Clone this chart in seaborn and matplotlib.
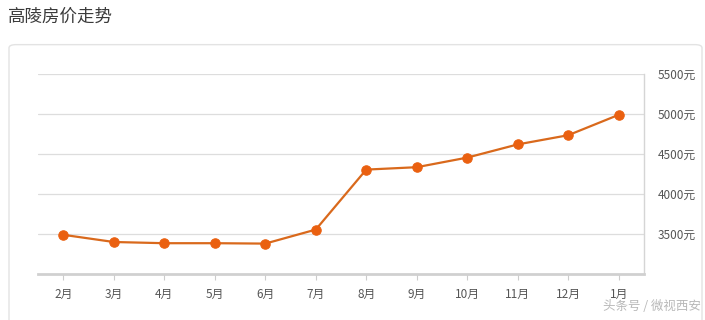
import matplotlib
matplotlib.use("Agg")
import matplotlib.pyplot as plt
import seaborn as sns
import pandas as pd
from matplotlib.patches import FancyBboxPatch

months = ["2月", "3月", "4月", "5月", "6月", "7月", "8月", "9月", "10月", "11月", "12月", "1月"]
prices = [3490, 3400, 3385, 3385, 3380, 3555, 4305, 4335, 4455, 4620, 4735, 4990]
yticks = [3500, 4000, 4500, 5000, 5500]
ytick_labels = ["3500元", "4000元", "4500元", "5000元", "5500元"]
title = "高陵房价走势"
watermark = "头条号 / 微视西安"

sns.set_theme(style="white")
plt.rcParams['font.family'] = ['Noto Sans CJK SC', 'DejaVu Sans']

df = pd.DataFrame({"month": months, "price": prices})
df["x"] = range(len(months))

W, H = 705, 320
fig = plt.figure(figsize=(W / 100, H / 100), dpi=100)
fig.patch.set_facecolor("white")

# panel box
box = FancyBboxPatch((9 / W, -0.05), (W - 12) / W, (H - 44) / H + 0.05 - 0.002,
                     boxstyle="round,pad=0,rounding_size=0.01",
                     transform=fig.transFigure, facecolor="white",
                     edgecolor="#e3e3e3", linewidth=1.0, zorder=-10)
fig.patches.append(box)

fig.text(8 / W, 1 - 17 / H, title, fontsize=12.6, color="#3a3a3a", va="center", ha="left")

left, right, top, bottom = 38, 644, 74, 274
ax = fig.add_axes([left / W, 1 - bottom / H, (right - left) / W, (bottom - top) / H])
ax.set_zorder(5)
ax.set_facecolor("none")

sns.lineplot(data=df, x="x", y="price", ax=ax, color="#D9691C", linewidth=1.6,
             marker="o", markersize=6.8, markerfacecolor="#EA6010",
             markeredgecolor="#EA6010", zorder=3)

ax.set_xlim(-0.5, len(months) - 0.5)
ax.set_ylim(3000, 5500)
ax.set_xticks(df["x"])
ax.set_xticklabels(months)
ax.set_yticks(yticks)
ax.set_yticklabels(ytick_labels)
ax.yaxis.tick_right()
ax.set_xlabel("")
ax.set_ylabel("")
for y in yticks:
    ax.axhline(y, color="#dddddd", linewidth=0.9, zorder=1)

for s in ["top", "left"]:
    ax.spines[s].set_visible(False)
ax.spines["bottom"].set_color("#d0d0d0")
ax.spines["bottom"].set_linewidth(2)
ax.spines["right"].set_color("#d5d5d5")
ax.spines["right"].set_linewidth(1)

ax.tick_params(axis="x", which="both", bottom=True, length=4, width=0.8,
               color="#cccccc", labelsize=8.5, labelcolor="#555555", pad=6)
ax.tick_params(axis="y", which="both", right=False, left=False, length=0,
               labelsize=8.5, labelcolor="#555555", pad=10)

fig.text(1 - 4 / W, 1 - 306 / H, watermark, fontsize=9, color="#b8b8b8",
         ha="right", va="center")

fig.savefig("out.png", dpi=100)
